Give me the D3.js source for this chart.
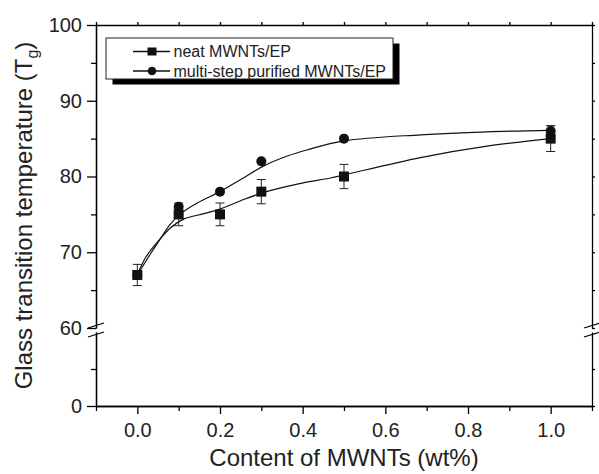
<!DOCTYPE html>
<html>
<head>
<meta charset="utf-8">
<script src="https://cdn.jsdelivr.net/npm/d3@7"></script>
<style>
  body { margin: 0; background: #fff; }
  svg { font-family: "Liberation Sans", Arial, sans-serif; }
  .axis path, .axis line { stroke: #000; stroke-width: 1.3px; }
  .axis text { fill: #222; font-size: 20px; }
</style>
</head>
<body>
<div id="chart"></div>
<script>
// measured points (wt% MWNTs vs Tg)
const contents = [0, 0.1, 0.2, 0.3, 0.5, 1.0];
const neatTg = [67, 75, 75, 78, 80, 85];
const neatErr = [1.4, 1.5, 1.5, 1.6, 1.6, 1.7];
const purifiedTg = [67, 76, 78, 82, 85, 86];
const purifiedErr = [null, null, null, null, null, 0.7];

// fitted curves
const neatFitX = [0, 0.02, 0.048, 0.08, 0.113, 0.161, 0.2, 0.25, 0.306, 0.387, 0.467, 0.5, 0.685, 0.846, 1.0];
const neatFitY = [67, 69.3, 71.3, 73.2, 74.4, 75.1, 75.7, 76.8, 77.9, 79.0, 79.8, 80.2, 82.5, 84.0, 85.0];
const purifiedFitX = [0, 0.032, 0.056, 0.08, 0.105, 0.145, 0.2, 0.25, 0.306, 0.363, 0.41, 0.5, 0.685, 0.846, 1.0];
const purifiedFitY = [67, 69.8, 71.8, 73.7, 75.1, 76.5, 78.0, 79.6, 81.4, 82.7, 83.5, 84.7, 85.5, 85.9, 86.1];

const xMajor = [0, 0.2, 0.4, 0.6, 0.8, 1.0];
const xMinor = [-0.1, 0.1, 0.3, 0.5, 0.7, 0.9, 1.1];
const yMajorTop = [60, 70, 80, 90, 100];
const yMinorTop = [65, 75, 85, 95];
const yMajorBot = [0];
const yMinorBot = [30];

const seriesNames = ["neat MWNTs/EP", "multi-step purified MWNTs/EP"];
const xTitle = "Content of MWNTs (wt%)";

const margin = {top: 25, right: 7, bottom: 68, left: 96};
const width = 599 - margin.left - margin.right;
const height = 474 - margin.top - margin.bottom;

const x = d3.scaleLinear().domain([-0.1, 1.1]).range([0, width]);
// broken y axis: upper part 60-100, lower part 0-60
const yTop = d3.scaleLinear().domain([60, 100]).range([303, 0]);
const yBot = d3.scaleLinear().domain([0, 60]).range([height, 307]);
const y = v => v >= 60 ? yTop(v) : yBot(v);

const svg = d3.select("#chart").append("svg")
    .attr("width", 599)
    .attr("height", 474)
  .append("g")
    .attr("transform", `translate(${margin.left},${margin.top})`);

// bottom axis
svg.append("g").attr("class", "axis")
    .attr("transform", `translate(0,${height})`)
    .call(d3.axisBottom(x).tickValues(xMajor).tickFormat(d3.format(".1f")).tickSize(8).tickSizeOuter(0).tickPadding(9));
svg.append("g").attr("class", "axis")
    .attr("transform", `translate(0,${height})`)
    .call(d3.axisBottom(x).tickValues(xMinor).tickFormat("").tickSize(5).tickSizeOuter(0));
// top axis
svg.append("g").attr("class", "axis")
    .call(d3.axisTop(x).tickValues(xMajor.concat(xMinor)).tickFormat("").tickSize(3).tickSizeOuter(0));

// left axis, two pieces
svg.append("g").attr("class", "axis")
    .call(d3.axisLeft(yTop).tickValues(yMajorTop).tickSize(9).tickSizeOuter(0).tickPadding(5));
svg.append("g").attr("class", "axis")
    .call(d3.axisLeft(yTop).tickValues(yMinorTop).tickFormat("").tickSize(5).tickSizeOuter(0));
svg.append("g").attr("class", "axis")
    .call(d3.axisLeft(yBot).tickValues(yMajorBot).tickSize(9).tickSizeOuter(0).tickPadding(5));
svg.append("g").attr("class", "axis")
    .call(d3.axisLeft(yBot).tickValues(yMinorBot).tickFormat("").tickSize(5).tickSizeOuter(0));

// right axis, two pieces
svg.append("g").attr("class", "axis")
    .attr("transform", `translate(${width},0)`)
    .call(d3.axisRight(yTop).tickValues(yMajorTop.concat(yMinorTop)).tickFormat("").tickSize(3).tickSizeOuter(0));
svg.append("g").attr("class", "axis")
    .attr("transform", `translate(${width},0)`)
    .call(d3.axisRight(yBot).tickValues(yMajorBot.concat(yMinorBot)).tickFormat("").tickSize(3).tickSizeOuter(0));

// break marks
const breakY = (yTop(60) + yBot(60)) / 2;
[0, width].forEach(function(bx) {
    [-4.5, 4.5].forEach(function(off) {
        svg.append("line")
            .attr("x1", bx - 8).attr("y1", breakY + off + 2.5)
            .attr("x2", bx + 8).attr("y2", breakY + off - 2.5)
            .style("stroke", "#000")
            .style("stroke-width", 1.3);
    });
});

// fitted curves
const fitLine = d3.line()
    .x(function(d) { return x(d[0]); })
    .y(function(d) { return y(d[1]); })
    .curve(d3.curveCatmullRom.alpha(0.5));

[[neatFitX, neatFitY], [purifiedFitX, purifiedFitY]].forEach(function(s) {
    svg.append("path")
        .attr("d", fitLine(d3.zip(s[0], s[1])))
        .style("fill", "none")
        .style("stroke", "#111")
        .style("stroke-width", 1.2);
});

// error bars
function errorBars(vals, errs) {
    contents.forEach(function(c, i) {
        if (errs[i] == null) return;
        const cx = x(c);
        const y1 = y(vals[i] + errs[i]);
        const y2 = y(vals[i] - errs[i]);
        const g = svg.append("g").style("stroke", "#222").style("stroke-width", 1);
        g.append("line").attr("x1", cx).attr("x2", cx).attr("y1", y1).attr("y2", y2);
        g.append("line").attr("x1", cx - 4.5).attr("x2", cx + 4.5).attr("y1", y1).attr("y2", y1);
        g.append("line").attr("x1", cx - 4.5).attr("x2", cx + 4.5).attr("y1", y2).attr("y2", y2);
    });
}
errorBars(neatTg, neatErr);
errorBars(purifiedTg, purifiedErr);

// markers: circles under squares
svg.selectAll(".dot")
    .data(contents)
  .enter().append("circle")
    .attr("class", "dot")
    .attr("cx", function(d) { return x(d); })
    .attr("cy", function(d, i) { return y(purifiedTg[i]); })
    .attr("r", 5)
    .style("fill", "#111");

svg.selectAll(".sq")
    .data(contents)
  .enter().append("rect")
    .attr("class", "sq")
    .attr("x", function(d) { return x(d) - 5; })
    .attr("y", function(d, i) { return y(neatTg[i]) - 5; })
    .attr("width", 10)
    .attr("height", 10)
    .style("fill", "#111");

// legend with drop shadow
const legend = svg.append("g").attr("transform", "translate(10,13)");
legend.append("rect")
    .attr("x", 6.5).attr("y", 5.5)
    .attr("width", 287).attr("height", 41)
    .style("fill", "#000");
legend.append("rect")
    .attr("width", 287).attr("height", 41)
    .style("fill", "#fff")
    .style("stroke", "#222")
    .style("stroke-width", 1);

seriesNames.forEach(function(name, i) {
    const ly = 13.5 + i * 19.5;
    legend.append("line")
        .attr("x1", 27).attr("x2", 64)
        .attr("y1", ly).attr("y2", ly)
        .style("stroke", "#111").style("stroke-width", 1.3);
    if (i === 0) {
        legend.append("rect")
            .attr("x", 46 - 4.5).attr("y", ly - 4).attr("width", 9).attr("height", 8)
            .style("fill", "#111");
    } else {
        legend.append("circle")
            .attr("cx", 46).attr("cy", ly).attr("r", 4.3)
            .style("fill", "#111");
    }
    legend.append("text")
        .attr("x", 67.5).attr("y", ly)
        .attr("dy", "0.36em")
        .style("font-size", "16px")
        .style("fill", "#222")
        .text(name);
});

// axis titles
svg.append("text")
    .attr("x", width / 2)
    .attr("y", height + 60)
    .attr("text-anchor", "middle")
    .style("font-size", "24px")
    .style("fill", "#222")
    .text(xTitle);

const yTitle = svg.append("text")
    .attr("transform", `translate(${31.5 - margin.left},${height / 2}) rotate(-90)`)
    .attr("text-anchor", "middle")
    .style("font-size", "24px")
    .style("fill", "#222");
yTitle.append("tspan").text("Glass transition temperature (T");
yTitle.append("tspan").attr("dy", 6).style("font-size", "16px").text("g");
yTitle.append("tspan").attr("dy", -6).text(")");
</script>
</body>
</html>
